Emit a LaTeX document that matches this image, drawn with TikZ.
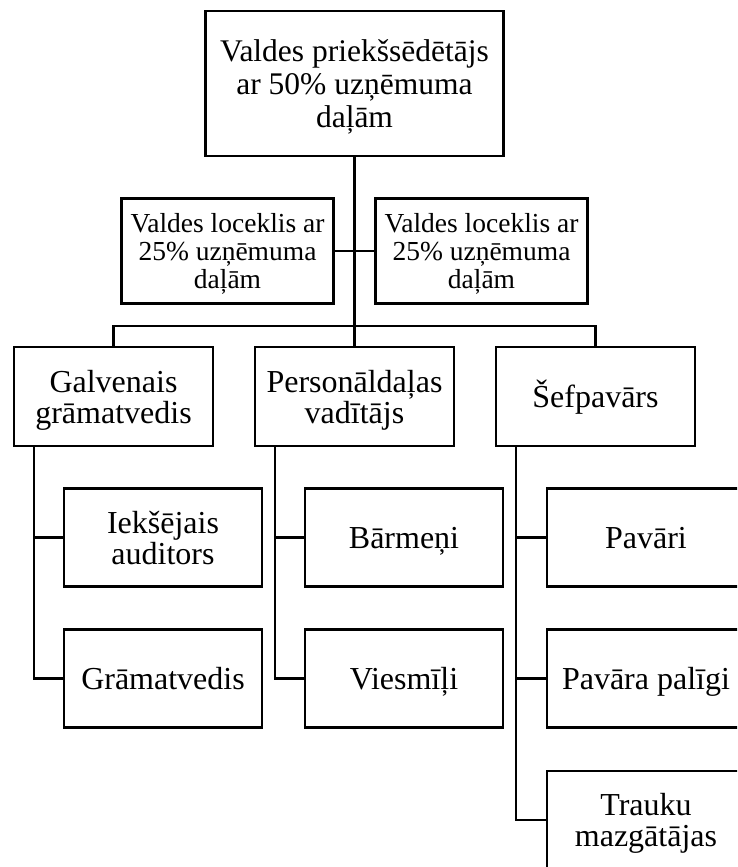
\documentclass[tikz,border=0pt]{standalone}
\usepackage{fontspec}
\setmainfont{Liberation Serif}
\begin{document}
\begin{tikzpicture}[x=1pt,y=-1pt,
  box/.style={draw=black,line width=2.7pt,fill=white,align=center,inner sep=0pt,
    font=\fontsize{32}{31}\selectfont,text depth=0pt},
  topbox/.style={box,minimum width=298pt,minimum height=145pt,font=\fontsize{31.5}{33}\selectfont},
  membox/.style={box,minimum width=212pt,minimum height=105pt,font=\fontsize{27.5}{28.3}\selectfont},
  depbox/.style={box,minimum width=199pt,minimum height=99pt},
  subbox/.style={box,minimum width=198pt,minimum height=98pt},
  oneline/.style={text height=21.2pt},
  conn/.style={draw=black,line width=2.7pt}]
\useasboundingbox (0,0) rectangle (737,867);
\clip (0,0) rectangle (737,867);
\node[topbox] (top) at (354.5,83.5) {Valdes priekšsēdētājs\\ar 50\% uzņēmuma\\daļām};
\node[membox] (m1) at (227.5,251) {Valdes loceklis ar\\25\% uzņēmuma\\daļām};
\node[membox] (m2) at (481.5,251) {Valdes loceklis ar\\25\% uzņēmuma\\daļām};
\node[depbox] (d1) at (113.5,396.5) {Galvenais\\grāmatvedis};
\node[depbox] (d2) at (354.5,396.5) {Personāldaļas\\vadītājs};
\node[depbox,oneline] (d3) at (595.5,396.5) {Šefpavārs};
\node[subbox] (s11) at (163,537.5) {Iekšējais\\auditors};
\node[subbox,oneline] (s12) at (163,678.5) {Grāmatvedis};
\node[subbox,oneline] (s21) at (404,537.5) {Bārmeņi};
\node[subbox,oneline] (s22) at (404,678.5) {Viesmīļi};
\node[subbox,oneline] (s31) at (646,537.5) {Pavāri};
\node[subbox,oneline] (s32) at (646,678.5) {Pavāra palīgi};
\node[subbox] (s33) at (646,820) {Trauku\\mazgātājas};
\coordinate (bus) at (354.5,326);
\coordinate (c1) at (34,0);
\coordinate (c2) at (275,0);
\coordinate (c3) at (516,0);
\draw[conn] (top.south) -- (bus);
\draw[conn] (m1.east) -- (m2.west);
\draw[conn] (d1.north) |- (bus) -| (d3.north);
\draw[conn] (bus) -- (d2.north);
\draw[conn] (c1 |- d1.south) |- (s11.west);
\draw[conn] (c1 |- s11.west) |- (s12.west);
\draw[conn] (c2 |- d2.south) |- (s21.west);
\draw[conn] (c2 |- s21.west) |- (s22.west);
\draw[conn] (c3 |- d3.south) |- (s31.west);
\draw[conn] (c3 |- s31.west) |- (s32.west);
\draw[conn] (c3 |- s32.west) |- (s33.west);
\end{tikzpicture}
\end{document}
